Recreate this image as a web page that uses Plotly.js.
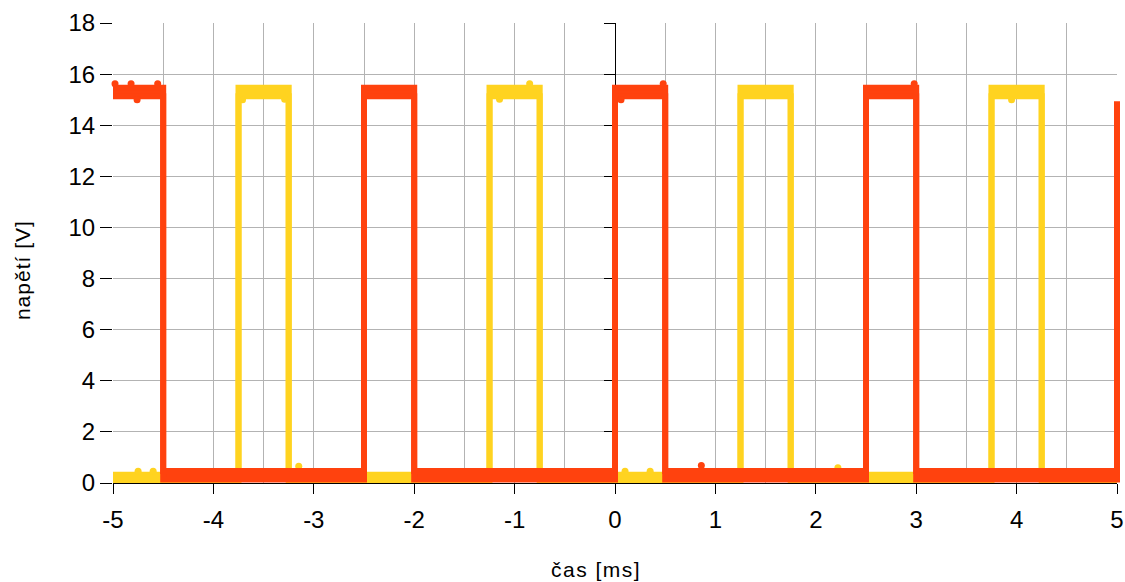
<!DOCTYPE html>
<html><head><meta charset="utf-8">
<script src="https://cdn.plot.ly/plotly-3.0.1.min.js"></script>
<style>html,body{margin:0;padding:0;background:#fff}</style>
</head><body><div id="chart" style="width:1125px;height:582px"></div>
<script>
// ---- data ----
const redSwitchTimes = [-5, -4.5, -2.5, -2.0, 0, 0.5, 2.5, 3.0, 5];
const redSwitchStates = [1, 0, 1, 0, 1, 0, 1, 0, 1];
const yellowSwitchTimes = [-5, -3.75, -3.25, -1.25, -0.75, 1.25, 1.75, 3.75, 4.25];
const yellowSwitchStates = [0, 1, 0, 1, 0, 1, 0, 1, 0];
const timeEnd = 5;
// noise envelope of each level [bottom, top] in volts
const redHighBand = [15.13, 15.47];
const redLowBand = [0.14, 0.47];
const yellowHighBand = [15.13, 15.47];
const yellowLowBand = [0.12, 0.32];
const redFinalLevel = 14.93;
// isolated noise spikes
const redSpikeTimes = [-4.98, -4.82, -4.555, -4.76, 0.06, 0.48, 2.98, 0.86];
const redSpikeValues = [15.62, 15.62, 15.62, 15.0, 15.0, 15.62, 15.62, 0.68];
const yellowSpikeTimes = [-3.71, -3.29, 3.95, -0.85, -1.15, -3.15, 0.1, 0.35, 2.22, -4.6, -4.75];
const yellowSpikeValues = [15.0, 15.02, 15.0, 15.62, 15.02, 0.66, 0.46, 0.46, 0.6, 0.46, 0.46];
const yTickValues = [0, 2, 4, 6, 8, 10, 12, 14, 16, 18];
const xTickValues = [-5, -4, -3, -2, -1, 0, 1, 2, 3, 4, 5];
const xTickLabels = ['-5', '-4', '-3', '-2', '-1', '0', '1', '2', '3', '4', '5'];

const RED = '#ff420e', YELLOW = '#ffd320';

function envelope(times, states, lowBand, highBand, k, endT, finalLevel) {
  const x = [], y = [];
  for (let i = 0; i < times.length; i++) {
    const t0 = times[i];
    const t1 = i + 1 < times.length ? times[i + 1] : endT;
    let lvl = states[i] ? highBand[k] : lowBand[k];
    if (t0 === t1 && finalLevel !== undefined) lvl = finalLevel;
    x.push(t0, t1); y.push(lvl, lvl);
  }
  return {x, y};
}

const common = {type: 'scatter', hoverinfo: 'skip', showlegend: false, cliponaxis: false};

function bandTraces(times, states, lowBand, highBand, color, finalLevel) {
  const lo = envelope(times, states, lowBand, highBand, 0, timeEnd, finalLevel);
  const hi = envelope(times, states, lowBand, highBand, 1, timeEnd, finalLevel);
  return [
    Object.assign({}, common, {mode: 'lines', x: lo.x, y: lo.y, line: {color: color, width: 6}}),
    Object.assign({}, common, {mode: 'lines', x: hi.x, y: hi.y, line: {color: color, width: 6}, fill: 'tonexty', fillcolor: color})
  ];
}
function spikeTrace(t, v, color) {
  return Object.assign({}, common, {mode: 'markers', x: t, y: v, marker: {color: color, size: 7, line: {width: 0}}});
}

const traces = [
  ...bandTraces(yellowSwitchTimes, yellowSwitchStates, yellowLowBand, yellowHighBand, YELLOW),
  spikeTrace(yellowSpikeTimes, yellowSpikeValues, YELLOW),
  ...bandTraces(redSwitchTimes, redSwitchStates, redLowBand, redHighBand, RED, redFinalLevel),
  spikeTrace(redSpikeTimes, redSpikeValues, RED),
  {type: 'scatter', x: [], y: [], yaxis: 'y2', showlegend: false, hoverinfo: 'skip'}
];

const FONT = 'Liberation Sans, Arial, sans-serif';
const layout = {
  width: 1125, height: 582,
  margin: {l: 113, r: 8, t: 23, b: 99},
  paper_bgcolor: '#fff', plot_bgcolor: '#fff',
  showlegend: false,
  font: {family: FONT, color: '#000', size: 24},
  xaxis: {
    range: [-5, 5], tickvals: xTickValues, ticktext: xTickLabels,
    showgrid: true, gridcolor: '#b3b3b3', gridwidth: 1,
    minor: {dtick: 0.5, tick0: 0, showgrid: true, gridcolor: '#b3b3b3', gridwidth: 1, ticks: ''},
    zeroline: false, showline: true, linecolor: '#000', linewidth: 1,
    ticks: 'outside', ticklen: 10, tickcolor: '#000', tickwidth: 1,
    ticklabelstandoff: 5,
    tickfont: {family: FONT, size: 24, color: '#000'},
    layer: 'below traces', fixedrange: true
  },
  yaxis: {
    range: [0, 18], tickvals: yTickValues,
    showgrid: true, gridcolor: '#b3b3b3', gridwidth: 1,
    zeroline: false, showline: false,
    ticks: 'outside', ticklen: 12, tickcolor: '#000', tickwidth: 1,
    tickfont: {family: FONT, size: 24, color: '#000'},
    fixedrange: true
  },
  yaxis2: {
    overlaying: 'y', anchor: 'free', position: 0.5, side: 'left',
    range: [0, 18], tickvals: yTickValues, showticklabels: false,
    showgrid: false, zeroline: false, showline: true, linecolor: '#000', linewidth: 1,
    ticks: 'outside', ticklen: 11, tickcolor: '#000', tickwidth: 1,
    layer: 'below traces', fixedrange: true
  },
  annotations: [
    {xref: 'paper', yref: 'paper', x: 0.481, y: -0.187, xanchor: 'center', yanchor: 'middle', showarrow: false,
     text: '<span style="letter-spacing:1.5px">čas [ms]</span>', font: {family: FONT, size: 21, color: '#000'}},
    {xref: 'paper', yref: 'paper', x: -0.0906, y: 0.463, xanchor: 'center', yanchor: 'middle', showarrow: false, textangle: -90,
     text: '<span style="letter-spacing:1px">napětí [V]</span>', font: {family: FONT, size: 21, color: '#000'}}
  ]
};

function unclip() {
  // the reference draws the signal strokes unclipped at the plot edges
  document.querySelectorAll('#chart .cartesianlayer [clip-path], #chart .cartesianlayer [style*="clip-path"]').forEach(function (el) {
    el.removeAttribute('clip-path');
    el.style.clipPath = '';
  });
}
Plotly.newPlot('chart', traces, layout, {displayModeBar: false, staticPlot: true}).then(unclip);
unclip();
setTimeout(unclip, 0);
setTimeout(unclip, 50);
</script></body></html>
